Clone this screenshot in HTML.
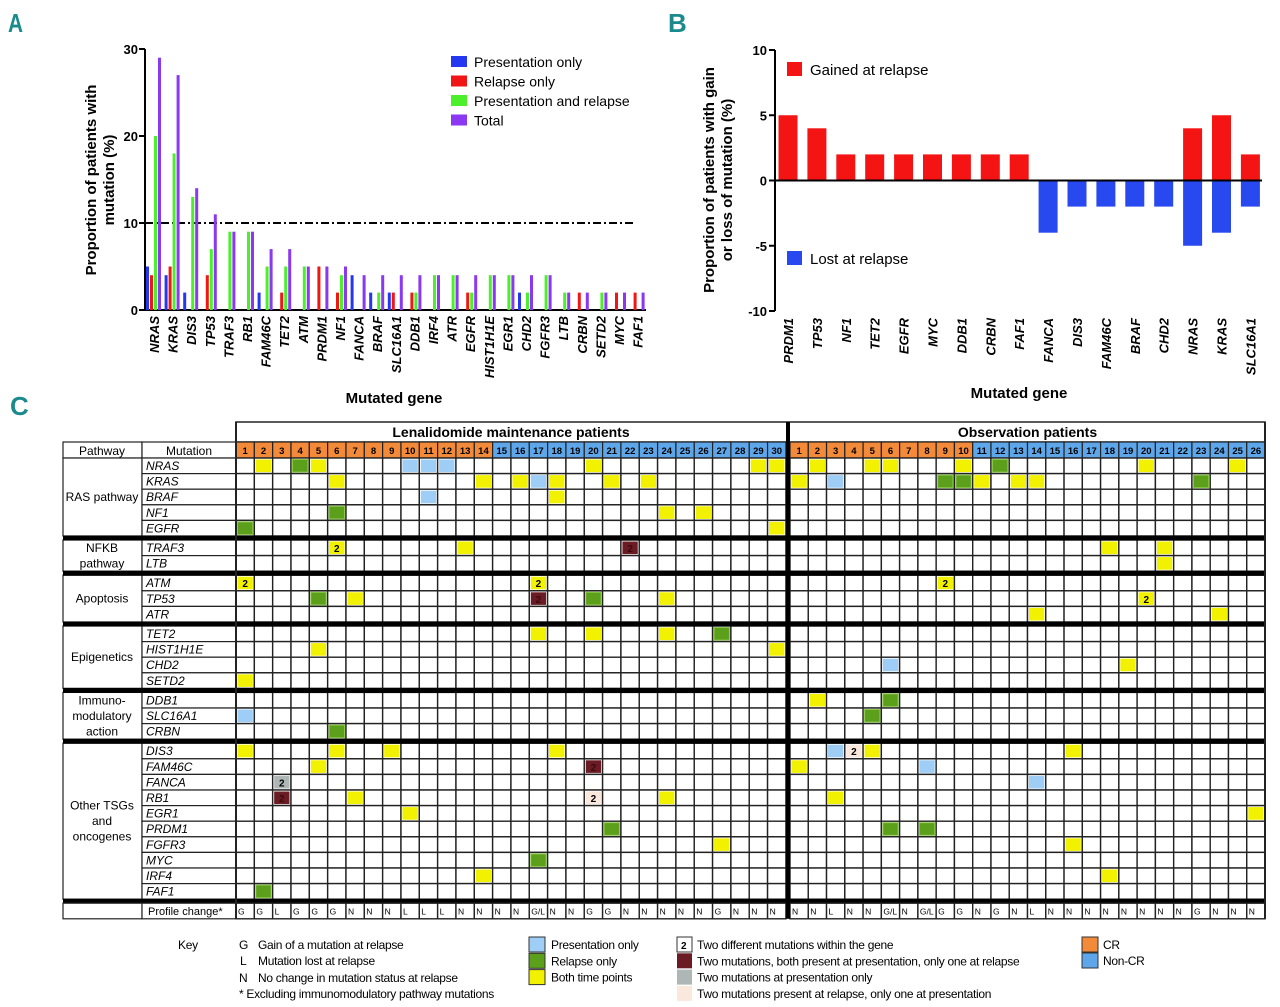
<!DOCTYPE html>
<html><head><meta charset="utf-8">
<style>
html,body{margin:0;padding:0;background:#fff;}
svg{display:block;font-family:"Liberation Sans",sans-serif;}
.pl{font-family:"Liberation Sans",sans-serif;font-weight:bold;fill:#1b8a8c;font-size:26px;}
</style></head>
<body>
<svg id="fig" width="1280" height="1007" viewBox="0 0 1280 1007" xmlns="http://www.w3.org/2000/svg">
<text class="pl" x="8" y="32" transform="scale(0.8,1)" style="transform-origin:8px 32px">A</text>
<text class="pl" x="668" y="32">B</text>
<text class="pl" x="10" y="415">C</text>
<g id="pa"></g>
<g id="pb"></g>
<g id="pc"></g>
<g id="key"></g>
</svg>
<script>
// ---------- Panel A data ----------
const genesA = ["NRAS","KRAS","DIS3","TP53","TRAF3","RB1","FAM46C","TET2","ATM","PRDM1","NF1","FANCA","BRAF","SLC16A1","DDB1","IRF4","ATR","EGFR","HIST1H1E","EGR1","CHD2","FGFR3","LTB","CRBN","SETD2","MYC","FAF1"];
const presOnly = [5,4,2,0,0,0,2,0,0,0,0,4,2,2,0,0,0,0,0,0,2,0,0,0,0,0,0];
const relOnly  = [4,5,0,4,0,0,0,2,0,5,2,0,0,2,2,0,0,2,0,0,0,0,0,2,0,2,2];
const presRel  = [20,18,13,7,9,9,5,5,5,0,4,0,2,0,2,4,4,2,4,4,2,4,2,0,2,0,0];
const totalA   = [29,27,14,11,9,9,7,7,5,5,5,4,4,4,4,4,4,4,4,4,4,4,2,2,2,2,2];
const ticksA = [0,10,20,30];
const thresholdA = 10;
// ---------- Panel B data ----------
const genesB = ["PRDM1","TP53","NF1","TET2","EGFR","MYC","DDB1","CRBN","FAF1","FANCA","DIS3","FAM46C","BRAF","CHD2","NRAS","KRAS","SLC16A1"];
const gainedB = [5,4,2,2,2,2,2,2,2,0,0,0,0,0,4,5,2];
const lostB   = [0,0,0,0,0,0,0,0,0,-4,-2,-2,-2,-2,-5,-4,-2];
const ticksB = [10,5,0,-5,-10];
// ---------- Panel C data ----------
const groups = [
 {name:"RAS pathway", lines:["RAS pathway"], rows:["NRAS","KRAS","BRAF","NF1","EGFR"]},
 {name:"NFKB pathway", lines:["NFKB","pathway"], rows:["TRAF3","LTB"]},
 {name:"Apoptosis", lines:["Apoptosis"], rows:["ATM","TP53","ATR"]},
 {name:"Epigenetics", lines:["Epigenetics"], rows:["TET2","HIST1H1E","CHD2","SETD2"]},
 {name:"Immunomodulatory action", lines:["Immuno-","modulatory","action"], rows:["DDB1","SLC16A1","CRBN"]},
 {name:"Other TSGs and oncogenes", lines:["Other TSGs","and","oncogenes"], rows:["DIS3","FAM46C","FANCA","RB1","EGR1","PRDM1","FGFR3","MYC","IRF4","FAF1"]}
];
const lenCells = {
 NRAS:"2y,4g,5y,10b,11b,12b,20y,29y,30y", KRAS:"6y,14y,16y,17b,18y,21y,23y", BRAF:"11b,18y", NF1:"6g,24y,26y", EGFR:"1g,30y",
 TRAF3:"6y2,13y,22m2", LTB:"", ATM:"1y2,17y2", TP53:"5g,7y,17m2,20g,24y", ATR:"",
 TET2:"17y,20y,24y,27g", HIST1H1E:"5y,30y", CHD2:"", SETD2:"1y",
 DDB1:"", SLC16A1:"1b", CRBN:"6g",
 DIS3:"1y,6y,9y,18y", FAM46C:"5y,20m2", FANCA:"3s2", RB1:"3m2,7y,20p2,24y", EGR1:"10y", PRDM1:"21g", FGFR3:"27y", MYC:"17g", IRF4:"14y", FAF1:"2g"
};
const obsCells = {
 NRAS:"2y,5y,6y,10y,12g,20y,25y", KRAS:"1y,3b,9g,10g,11y,13y,14y,23g", BRAF:"", NF1:"", EGFR:"",
 TRAF3:"18y,21y", LTB:"21y", ATM:"9y2", TP53:"20y2", ATR:"14y,24y",
 TET2:"", HIST1H1E:"", CHD2:"6b,19y", SETD2:"",
 DDB1:"2y,6g", SLC16A1:"5g", CRBN:"",
 DIS3:"3b,4p2,5y,16y", FAM46C:"1y,8b", FANCA:"14b", RB1:"3y", EGR1:"26y", PRDM1:"6g,8g", FGFR3:"16y", MYC:"", IRF4:"18y", FAF1:""
};
const lenProfile = "G G L G G G N N N L L L N N N N G/L N N G G N N N N N G N N N".split(" ");
const obsProfile = "N N L N N G/L N G/L G G N G N L N N N N N N N N G N N N".split(" ");
const lenCR = 14, obsCR = 10;

const NS = "http://www.w3.org/2000/svg";
function mk(parent, tag, attrs, txt){
  const el = document.createElementNS(NS, tag);
  for (const k in attrs) el.setAttribute(k, attrs[k]);
  if (txt !== undefined) el.textContent = txt;
  parent.appendChild(el);
  return el;
}

// ================= PANEL A =================
(function(){
  const g = document.getElementById('pa');
  const x0 = 145, y0 = 310, yTop = 49, yMax = 30;
  const yA = v => y0 - v * (y0 - yTop) / yMax;
  const step = 18.6, gx = i => 146 + i * step;
  let el;
  el = mk(g,'line',{x1:x0,y1:yTop,x2:x0,y2:y0,stroke:'#000','stroke-width':2});
  
  
  el = mk(g,'line',{x1:x0,y1:y0,x2:646,y2:y0,stroke:'#000','stroke-width':2});
  
  
  ticksA.forEach(t=>{
    el = mk(g,'line',{x1:x0-6,y1:yA(t),x2:x0,y2:yA(t),stroke:'#000','stroke-width':2});
    
    
    el = mk(g,'text',{x:x0-7,y:yA(t)+5,'text-anchor':'end','font-size':13,'font-weight':'bold'},String(t));
    
    
  });
  el = mk(g,'line',{x1:x0,y1:yA(thresholdA),x2:636,y2:yA(thresholdA),stroke:'#000','stroke-width':2,'stroke-dasharray':'8,3,2,3'});
  
  
  const series = [[presOnly,'#2438f2'],[relOnly,'#f01616'],[presRel,'#4cf02a'],[totalA,'#8a38f2']];
  genesA.forEach((gene,i)=>{
    series.forEach((s,k)=>{
      const v = s[0][i];
      if (v>0){
        el = mk(g,'rect',{x:gx(i)+k*4,y:yA(v),width:3,height:y0-yA(v),fill:s[1]});
        
        
      }
    });
    const cx = gx(i)+8;
    el = mk(g,'text',{x:cx+5,y:316,transform:`rotate(-90 ${cx+5} 316)`,'text-anchor':'end','font-size':13,'font-weight':'bold','font-style':'italic'},gene);
    
    
  });
  el = mk(g,'text',{x:394,y:403,'text-anchor':'middle','font-size':15,'font-weight':'bold'},'Mutated gene');
  
  
  el = mk(g,'text',{x:96,y:180,transform:'rotate(-90 96 180)','text-anchor':'middle','font-size':15,'font-weight':'bold'},'Proportion of patients with');
  
  
  el = mk(g,'text',{x:114,y:180,transform:'rotate(-90 114 180)','text-anchor':'middle','font-size':15,'font-weight':'bold'},'mutation (%)');
  
  
  const leg = [['Presentation only','#2438f2'],['Relapse only','#f01616'],['Presentation and relapse','#4cf02a'],['Total','#8a38f2']];
  leg.forEach((l,k)=>{
    const y = 62 + k*19.5;
    el = mk(g,'rect',{x:451,y:y-6,width:16,height:11,fill:l[1]});
    
    
    el = mk(g,'text',{x:474,y:y+5,'font-size':14},l[0]);
    
    
  });
})();

// ================= PANEL B =================
(function(){
  const g = document.getElementById('pb');
  const x0 = 775, yT = 50, yB = 311;
  const yS = v => yT + (10 - v) * (yB - yT) / 20;
  const cx = i => 788 + i * 28.9;
  let el;
  el = mk(g,'line',{x1:x0,y1:yT,x2:x0,y2:yB,stroke:'#000','stroke-width':2});
  
  
  genesB.forEach((gene,i)=>{
    if (gainedB[i]>0){
      el = mk(g,'rect',{x:cx(i)-9.5,y:yS(gainedB[i]),width:19,height:yS(0)-yS(gainedB[i]),fill:'#f51414'});
      
      
    }
    if (lostB[i]<0){
      el = mk(g,'rect',{x:cx(i)-9.5,y:yS(0),width:19,height:yS(lostB[i])-yS(0),fill:'#2848f0'});
      
      
    }
    el = mk(g,'text',{x:cx(i)+5,y:318,transform:`rotate(-90 ${cx(i)+5} 318)`,'text-anchor':'end','font-size':13,'font-weight':'bold','font-style':'italic'},gene);
    
    
  });
  el = mk(g,'line',{x1:x0,y1:yS(0),x2:1262,y2:yS(0),stroke:'#000','stroke-width':2});
  
  
  ticksB.forEach(t=>{
    el = mk(g,'line',{x1:x0-6,y1:yS(t),x2:x0,y2:yS(t),stroke:'#000','stroke-width':2});
    
    
    el = mk(g,'text',{x:x0-8,y:yS(t)+5,'text-anchor':'end','font-size':13,'font-weight':'bold'},String(t));
    
    
  });
  el = mk(g,'text',{x:1019,y:398,'text-anchor':'middle','font-size':15,'font-weight':'bold'},'Mutated gene');
  
  
  el = mk(g,'text',{x:714,y:180,transform:'rotate(-90 714 180)','text-anchor':'middle','font-size':15,'font-weight':'bold'},'Proportion of patients with gain');
  
  
  el = mk(g,'text',{x:732,y:180,transform:'rotate(-90 732 180)','text-anchor':'middle','font-size':15,'font-weight':'bold'},'or loss of mutation (%)');
  
  
  el = mk(g,'rect',{x:787,y:62,width:15,height:14,fill:'#f51414'});
  
  
  el = mk(g,'text',{x:810,y:75,'font-size':15},'Gained at relapse');
  
  
  el = mk(g,'rect',{x:787,y:251,width:15,height:14,fill:'#2848f0'});
  
  
  el = mk(g,'text',{x:810,y:264,'font-size':15},'Lost at relapse');
  
  
})();

// ================= PANEL C =================
(function(){
  const g = document.getElementById('pc');
  const colors = {y:'#f2f200',g:'#5b9f1a',b:'#9ecdf5',m:'#6b1b24',s:'#aeb6b6',p:'#fbe8dd'};
  const LX = 236, LW = 18.33, OX = 790, OW = 18.27, RH = 15.6, SEP = 4;
  const lenX = i => LX + i*LW, obsX = i => OX + i*OW;
  let el;
  // compute row positions
  const rowsY = []; let y = 458;
  const groupSpans = [];
  groups.forEach((grp,gi)=>{
    const start = y;
    grp.rows.forEach(r=>{ rowsY.push({gene:r,y:y}); y += RH; });
    groupSpans.push({grp:grp,y0:start,y1:y});
    y += SEP;
  });
  const profY = y; const endY = y + RH;
  // titles
  el = mk(g,'rect',{x:LX,y:422,width:1265-LX,height:20,fill:'#fff',stroke:'#222','stroke-width':1.5});
  
  
  el = mk(g,'text',{x:(LX+786)/2,y:437,'text-anchor':'middle','font-size':14,'font-weight':'bold'},'Lenalidomide maintenance patients');
  
  
  el = mk(g,'text',{x:(OX+1265)/2,y:437,'text-anchor':'middle','font-size':14,'font-weight':'bold'},'Observation patients');
  
  
  // left header
  el = mk(g,'rect',{x:63,y:442,width:79,height:16,fill:'#fff',stroke:'#222','stroke-width':1.2});
  
  
  el = mk(g,'text',{x:102,y:455,'text-anchor':'middle','font-size':12},'Pathway');
  
  
  el = mk(g,'rect',{x:142,y:442,width:94,height:16,fill:'#fff',stroke:'#222','stroke-width':1.2});
  
  
  el = mk(g,'text',{x:189,y:455,'text-anchor':'middle','font-size':12},'Mutation');
  
  
  // patient headers
  function header(n, xf, w, cr, prefix){
    for (let i=0;i<n;i++){
      el = mk(g,'rect',{x:xf(i),y:442,width:w,height:16,fill:i<cr?'#f28a3a':'#5ea6ea',stroke:'#222','stroke-width':1.2});
      
      
      el = mk(g,'text',{x:xf(i)+w/2,y:454,'text-anchor':'middle','font-size':9.5,'font-weight':'bold'},String(i+1));
      
      
    }
  }
  header(30,lenX,LW,lenCR,'len');
  header(26,obsX,OW,obsCR,'obs');
  // groups + rows
  groupSpans.forEach(s=>{
    el = mk(g,'rect',{x:63,y:s.y0,width:79,height:s.y1-s.y0,fill:'#fff',stroke:'#222','stroke-width':1.2});
    
    
    const n = s.grp.lines.length, mid = (s.y0+s.y1)/2;
    s.grp.lines.forEach((ln,k)=>{
      el = mk(g,'text',{x:102,y:mid+4+(k-(n-1)/2)*15.5,'text-anchor':'middle','font-size':12},ln);
      
      
    });
  });
  function drawRow(gene, yy, cells, n, xf, w, prefix){
    for (let i=0;i<n;i++){
      el = mk(g,'rect',{x:xf(i),y:yy,width:w,height:RH,fill:'#fff',stroke:'#222','stroke-width':1.4});
      
      
    }
    if (!cells) return;
    cells.split(',').forEach(c=>{
      const m = c.match(/^(\d+)([a-z])(\d?)$/); if(!m) return;
      const i = +m[1]-1, t = m[2], lab = m[3];
      el = mk(g,'rect',{x:xf(i)+1.5,y:yy+1.5,width:w-3,height:RH-3,fill:colors[t],stroke:t==='g'?'#8cc84a':'none','stroke-width':1});
      
      
      if (lab){
        el = mk(g,'text',{x:xf(i)+w/2,y:yy+12,'text-anchor':'middle','font-size':10,'font-weight':'bold',fill:(t==='m')?'#3a0a0e':'#000'},lab);
        
        
      }
    });
  }
  rowsY.forEach(r=>{
    el = mk(g,'rect',{x:142,y:r.y,width:94,height:RH,fill:'#fff',stroke:'#222','stroke-width':1.2});
    
    
    el = mk(g,'text',{x:146,y:r.y+12,'font-size':12,'font-style':'italic'},r.gene);
    
    
    drawRow(r.gene,r.y,lenCells[r.gene],30,lenX,LW,'len');
    drawRow(r.gene,r.y,obsCells[r.gene],26,obsX,OW,'obs');
  });
  // separators
  groupSpans.forEach(s=>{
    el = mk(g,'rect',{x:63,y:s.y1-0.5,width:1203,height:SEP+1,fill:'#000'});
    
    
  });
  // profile row
  el = mk(g,'rect',{x:63,y:profY,width:79,height:RH,fill:'#fff',stroke:'#222','stroke-width':1.2});
  
  
  el = mk(g,'rect',{x:142,y:profY,width:94,height:RH,fill:'#fff',stroke:'#222','stroke-width':1.2});
  
  
  el = mk(g,'text',{x:148,y:profY+12,'font-size':11},'Profile change*');
  
  
  function prof(arr,xf,w,prefix){
    arr.forEach((p,i)=>{
      el = mk(g,'rect',{x:xf(i),y:profY,width:w,height:RH,fill:'#fff',stroke:'#222','stroke-width':1.4});
      
      
      el = mk(g,'text',{x:xf(i)+2,y:profY+11.5,'font-size':8.5},p);
      
      
    });
  }
  prof(lenProfile,lenX,LW,'len');
  prof(obsProfile,obsX,OW,'obs');
  // vertical thick divider and outer borders
  el = mk(g,'rect',{x:786,y:422,width:4,height:endY-422,fill:'#000'});
  
  
  el = mk(g,'rect',{x:1264,y:422,width:2,height:endY-422,fill:'#222'});
  
  
  el = mk(g,'rect',{x:235,y:422,width:2,height:endY-422,fill:'#222'});
  
  
})();

// ================= KEY =================
(function(){
  const g = document.getElementById('key');
  let el;
  const T = (x,y,s,name,extra)=>{ el = mk(g,'text',Object.assign({x:x,y:y,'font-size':12,'letter-spacing':'-0.3'},extra||{}),s);   };
  T(178,949,'Key','key-title');
  T(239,949,'G','key-letter'); T(258,949,'Gain of a mutation at relapse','key-text');
  T(240,965,'L','key-letter'); T(258,965,'Mutation lost at relapse','key-text');
  T(239,982,'N','key-letter'); T(258,982,'No change in mutation status at relapse','key-text');
  T(239,998,'* Excluding immunomodulatory pathway mutations','key-footnote');
  const sw = [['#9ecdf5','Presentation only'],['#5b9f1a','Relapse only'],['#f2f200','Both time points']];
  sw.forEach((s,k)=>{
    el = mk(g,'rect',{x:529,y:937+k*16.3,width:16,height:15,fill:s[0],stroke:'#333','stroke-width':1});
    
    
    T(551,949+k*16.3,s[1],'key-swatch-label');
  });
  const sw2 = [['#fff','Two different mutations within the gene'],['#6b1b24','Two mutations, both present at presentation, only one at relapse'],['#aeb6b6','Two mutations at presentation only'],['#fbe8dd','Two mutations present at relapse, only one at presentation']];
  sw2.forEach((s,k)=>{
    el = mk(g,'rect',{x:677,y:937+k*16.3,width:15,height:15,fill:s[0],stroke:k===0?'#333':'none','stroke-width':1});
    
    
    if(k===0){ T(681,949,'2','key-two',{'font-weight':'bold','font-size':10}); }
    T(697,949+k*16.3,s[1],'key-swatch-label');
  });
  el = mk(g,'rect',{x:1082,y:937,width:16,height:15,fill:'#f28a3a',stroke:'#333','stroke-width':1});
  
  
  T(1103,949,'CR','key-cr-label');
  el = mk(g,'rect',{x:1082,y:953,width:16,height:15,fill:'#5ea6ea',stroke:'#333','stroke-width':1});
  
  
  T(1103,965,'Non-CR','key-noncr-label');
})();
</script>
</body></html>
